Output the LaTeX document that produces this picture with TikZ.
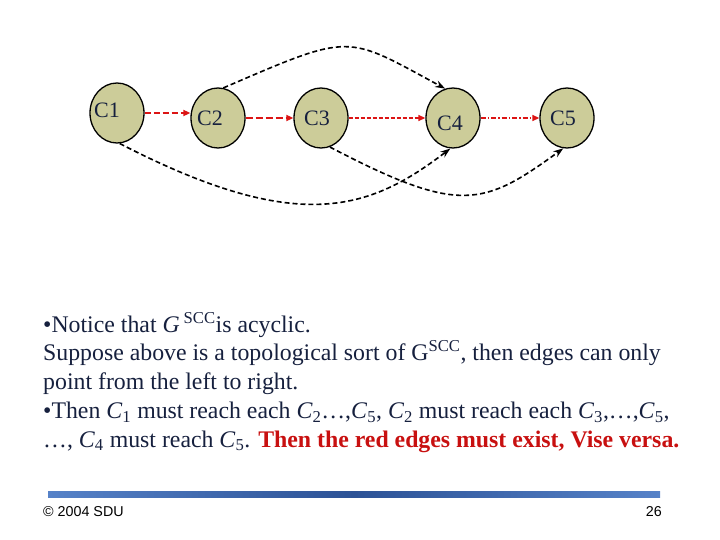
\documentclass[tikz,border=0pt]{standalone}
\usepackage{fontspec}
\setmainfont{Liberation Serif}
\newfontfamily\footfont{Liberation Sans}
\usetikzlibrary{arrows.meta, shapes.geometric}
\definecolor{compfill}{RGB}{204,204,153}
\definecolor{navy}{RGB}{22,32,62}
\definecolor{edgered}{RGB}{220,20,20}
\definecolor{textred}{RGB}{200,16,16}
\definecolor{barlight}{RGB}{86,130,200}
\definecolor{bardark}{RGB}{44,82,150}

\begin{document}
\begin{tikzpicture}[x=1pt, y=-1pt,
    comp/.style={ellipse, draw=black, line width=1.3pt, fill=compfill,
                 minimum width=54pt, minimum height=60pt, inner sep=0pt},
    lbl/.style={font=\fontsize{22}{22}\selectfont, text=navy},
    rededge/.style={draw=edgered, line width=1.8pt, -{Triangle[length=7pt,width=6pt]}},
    blkedge/.style={draw=black, line width=1.6pt, dash pattern=on 5pt off 3pt,
                    -{Stealth[length=10pt,width=7pt]}}]
   \useasboundingbox (0,0) rectangle (720,540);

   % the five components
   \node[comp, label={[lbl, xshift=-10pt, yshift=3pt]center:C1}] (C1) at (117,113) {};
   \node[comp, label={[lbl, xshift=-8pt]center:C2}] (C2) at (218,118) {};
   \node[comp, label={[lbl, xshift=-4pt]center:C3}] (C3) at (321,118) {};
   \node[comp, label={[lbl, xshift=-3pt, yshift=-5pt]center:C4}] (C4) at (453,118) {};
   \node[comp, label={[lbl, xshift=-4pt]center:C5}] (C5) at (567,118) {};

   % red edges between neighbours
   \path[rededge, dash pattern=on 6pt off 3pt] (C1.east) -- (C1.east -| C2.west);
   \path[rededge, dash pattern=on 7pt off 3pt] (C2) -- (C3);
   \path[rededge, line width=1.4pt, dash pattern=on 4pt off 2pt] (C3) -- (C4);
   \path[rededge, line width=1.4pt, dash pattern=on 5pt off 2pt on 1.5pt off 2pt] (C4) -- (C5);

   % black edges
   \draw[blkedge] (C2.80) .. controls +(130,-56) and +(-100,-54) .. (C4.105);
   \draw[blkedge] (C1.275) .. controls +(180,93) and +(-80,61) .. (C4.265);
   \draw[blkedge] (C3.287) .. controls +(130,68) and +(-80,58) .. (C5.263);

   % text
   \node[anchor=north west, align=left, text=navy, inner sep=0pt,
         font=\fontsize{23.8}{28.7}\selectfont] (notes) at (43,312)
   {\textbullet Notice that \textit{G}\,\textsuperscript{SCC}is acyclic.\\
    Suppose above is a topological sort of G\textsuperscript{SCC}, then edges can only\\
    point from the left to right.\\
    \textbullet Then \textit{C}\textsubscript{1} must reach each \textit{C}\textsubscript{2}\dots,\textit{C}\textsubscript{5}, \textit{C}\textsubscript{2} must reach each \textit{C}\textsubscript{3},\dots,\textit{C}\textsubscript{5},\\
    \dots, \textit{C}\textsubscript{4} must reach \textit{C}\textsubscript{5}. {\color{textred}\bfseries Then the red edges must exist, Vise versa.}};

   % footer
   \path[left color=barlight, right color=barlight, middle color=bardark] (48,491) rectangle (660,497);
   \node[anchor=base west, inner sep=0pt, font=\footfont\fontsize{14.3}{14.3}\selectfont] (copy) at (43,516) {\textcopyright{} 2004 SDU};
   \node[anchor=base east, inner sep=0pt, font=\footfont\fontsize{14.3}{14.3}\selectfont] (page) at (662,516) {26};
\end{tikzpicture}
\end{document}
